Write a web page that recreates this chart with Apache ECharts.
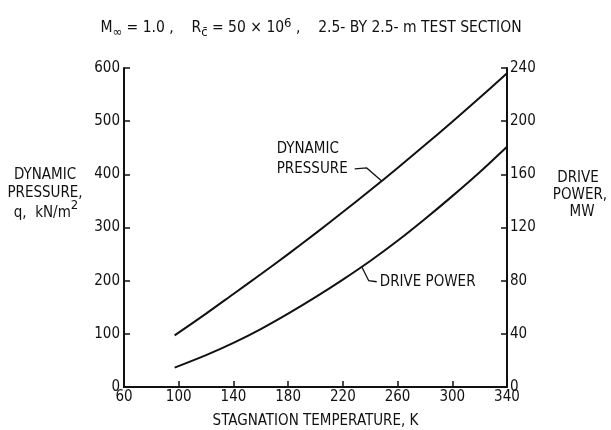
<!DOCTYPE html>
<html>
<head>
<meta charset="utf-8">
<script src="https://cdn.jsdelivr.net/npm/echarts@6/dist/echarts.min.js"></script>
<style>html,body{margin:0;padding:0;background:#fff}#c{width:611px;height:430px}</style>
</head>
<body>
<div id="c"></div>
<script>
// Data
const temperature = [97, 120, 140, 160, 180, 200, 220, 240, 260, 280, 300, 320, 340];
const dynamicPressure = [97, 138, 175, 212, 250, 289, 329, 370, 412, 455, 499, 544, 590]; // kN/m^2
const drivePower = [14.6, 24, 33.2, 43.6, 55.2, 67.6, 80.8, 94.8, 110, 126.4, 143.6, 161.6, 180.8]; // MW
const xTicks = [60, 100, 140, 180, 220, 260, 300, 340];
const pressureTicks = [0, 100, 200, 300, 400, 500, 600];
const powerTicks = [0, 40, 80, 120, 160, 200, 240];

const FONT = "'Liberation Sans Narrow','DejaVu Sans Condensed','Liberation Sans',sans-serif";
const INK = '#111';

const chart = echarts.init(document.getElementById('c'), null, {renderer: 'canvas'});

const axisCommon = {
  axisLine: {show: true, lineStyle: {color: INK, width: 2}},
  axisTick: {show: true, inside: true, length: 6, lineStyle: {color: INK, width: 1.5}},
  splitLine: {show: false},
  axisLabel: {color: INK, fontFamily: FONT, fontSize: 15}
};

chart.setOption({
  animation: false,
  backgroundColor: '#fff',
  title: {
    left: 306, top: 12, textAlign: 'center',
    text: '{a|M}{s|\u221e}{a| = 1.0 ,    R}{s|c\u0304}{a| = 50 \u00d7 10}{p|6}{a| ,    2.5- BY 2.5- m TEST SECTION}',
    textStyle: {
      fontWeight: 'normal',
      rich: {
        a: {fontFamily: FONT, fontSize: 15.5, fontWeight: 'normal', color: INK, lineHeight: 22, verticalAlign: 'middle'},
        s: {fontFamily: FONT, fontSize: 13, fontWeight: 'normal', color: INK, lineHeight: 12, verticalAlign: 'bottom'},
        p: {fontFamily: FONT, fontSize: 13, fontWeight: 'normal', color: INK, lineHeight: 12, verticalAlign: 'top'}
      }
    }
  },
  grid: {left: 124, right: 104, top: 68, bottom: 43, containLabel: false, outerBoundsMode: 'none'},
  xAxis: Object.assign({}, axisCommon, {
    type: 'value', min: xTicks[0], max: xTicks[xTicks.length - 1],
    axisTick: Object.assign({}, axisCommon.axisTick, {customValues: xTicks}),
    axisLabel: Object.assign({}, axisCommon.axisLabel, {customValues: xTicks, margin: 3}),
    name: 'STAGNATION TEMPERATURE, K', nameLocation: 'middle', nameGap: 27,
    nameTextStyle: {color: INK, fontFamily: FONT, fontSize: 15}
  }),
  yAxis: [
    Object.assign({}, axisCommon, {
      type: 'value', position: 'left', min: pressureTicks[0], max: pressureTicks[pressureTicks.length - 1], interval: 100,
      axisLabel: Object.assign({}, axisCommon.axisLabel, {margin: 4})
    }),
    Object.assign({}, axisCommon, {
      type: 'value', position: 'right', min: powerTicks[0], max: powerTicks[powerTicks.length - 1], interval: 40,
      axisLabel: Object.assign({}, axisCommon.axisLabel, {margin: 3})
    })
  ],
  series: [
    {name: 'DYNAMIC PRESSURE', type: 'line', yAxisIndex: 0, smooth: 0.3, showSymbol: false,
     lineStyle: {color: INK, width: 2},
     data: temperature.map((t, i) => [t, dynamicPressure[i]])},
    {name: 'DRIVE POWER', type: 'line', yAxisIndex: 1, smooth: 0.3, showSymbol: false,
     lineStyle: {color: INK, width: 2},
     data: temperature.map((t, i) => [t, drivePower[i]])}
  ]
});

function interp(xs, ys, x) {
  for (let i = 0; i < xs.length - 1; i++) {
    if (x >= xs[i] && x <= xs[i + 1]) {
      return ys[i] + (ys[i + 1] - ys[i]) * (x - xs[i]) / (xs[i + 1] - xs[i]);
    }
  }
  return ys[ys.length - 1];
}

const tA = 248.4, tB = 233.8;
const pA = chart.convertToPixel({xAxisIndex: 0, yAxisIndex: 0}, [tA, interp(temperature, dynamicPressure, tA)]);
const pB = chart.convertToPixel({xAxisIndex: 0, yAxisIndex: 1}, [tB, interp(temperature, drivePower, tB)]);

const txt = {fill: INK, font: '15px ' + FONT};
chart.setOption({
  graphic: [
    // left axis name
    {type: 'text', x: 45, y: 175, style: Object.assign({text: 'DYNAMIC', align: 'center', verticalAlign: 'middle'}, txt)},
    {type: 'text', x: 45, y: 193, style: Object.assign({text: 'PRESSURE,', align: 'center', verticalAlign: 'middle'}, txt)},
    {type: 'text', x: 46, y: 210, style: {
      text: '{a|q,  kN/m}{p|2}', align: 'center', verticalAlign: 'middle',
      rich: {
        a: {fill: INK, font: '15px ' + FONT, lineHeight: 22, verticalAlign: 'bottom'},
        p: {fill: INK, font: '13px ' + FONT, lineHeight: 14, verticalAlign: 'top'}
      }
    }},
    // right axis name
    {type: 'text', x: 578, y: 178, style: Object.assign({text: 'DRIVE', align: 'center', verticalAlign: 'middle'}, txt)},
    {type: 'text', x: 580, y: 195, style: Object.assign({text: 'POWER,', align: 'center', verticalAlign: 'middle'}, txt)},
    {type: 'text', x: 582, y: 212, style: Object.assign({text: 'MW', align: 'center', verticalAlign: 'middle'}, txt)},
    // dynamic pressure annotation
    {type: 'text', x: pA[0] - 105, y: pA[1] - 32, style: Object.assign({text: 'DYNAMIC', align: 'left', verticalAlign: 'middle'}, txt)},
    {type: 'text', x: pA[0] - 105, y: pA[1] - 12, style: Object.assign({text: 'PRESSURE', align: 'left', verticalAlign: 'middle'}, txt)},
    {type: 'polyline', shape: {points: [[pA[0] - 27, pA[1] - 12], [pA[0] - 15, pA[1] - 13], [pA[0], pA[1]]]},
     style: {stroke: INK, lineWidth: 1.3, fill: null}},
    // drive power annotation
    {type: 'polyline', shape: {points: [[pB[0], pB[1]], [pB[0] + 7, pB[1] + 14], [pB[0] + 15, pB[1] + 15]]},
     style: {stroke: INK, lineWidth: 1.3, fill: null}},
    {type: 'text', x: pB[0] + 18, y: pB[1] + 15, style: Object.assign({text: 'DRIVE POWER', align: 'left', verticalAlign: 'middle'}, txt)}
  ]
});
</script>
</body>
</html>
